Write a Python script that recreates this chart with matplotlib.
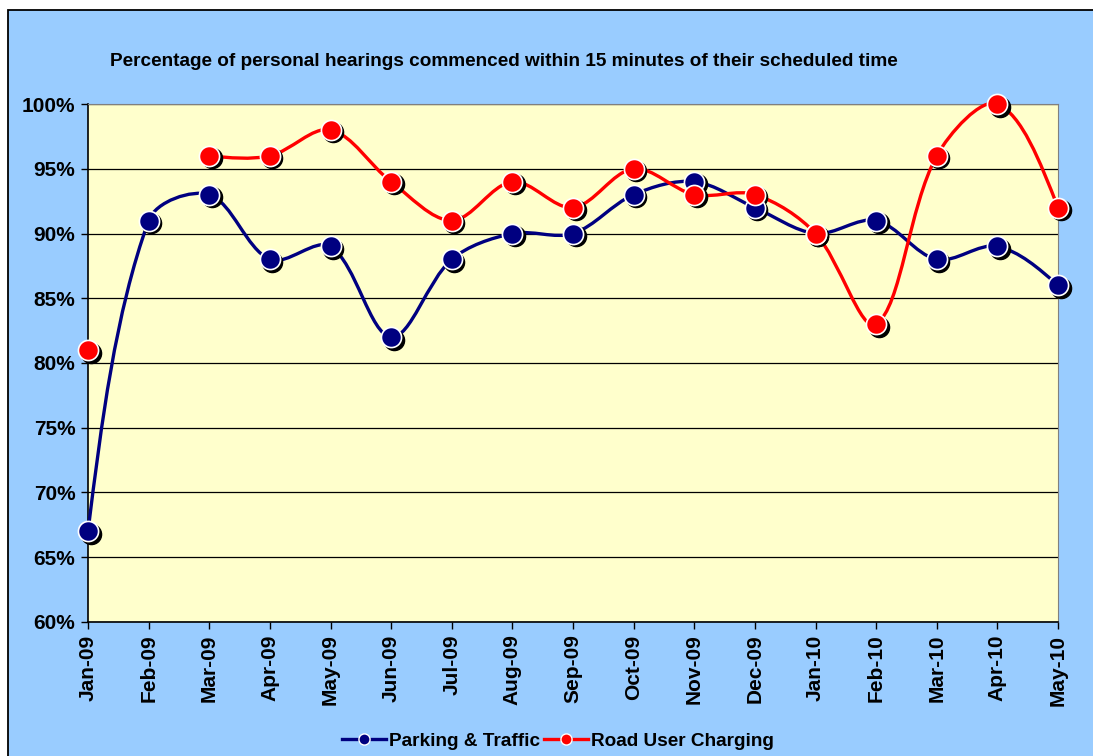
import numpy as np
import matplotlib
matplotlib.use("Agg")
import matplotlib.pyplot as plt
from matplotlib.path import Path
from matplotlib.patches import PathPatch, Rectangle
from matplotlib.lines import Line2D
import matplotlib.transforms as mtransforms

plt.rcParams['font.family'] = ['Liberation Sans', 'DejaVu Sans']

months = ["Jan-09", "Feb-09", "Mar-09", "Apr-09", "May-09", "Jun-09", "Jul-09", "Aug-09",
          "Sep-09", "Oct-09", "Nov-09", "Dec-09", "Jan-10", "Feb-10", "Mar-10", "Apr-10", "May-10"]
parking = [67, 91, 93, 88, 89, 82, 88, 90, 90, 93, 94, 92, 90, 91, 88, 89, 86]
road = [81, np.nan, 96, 96, 98, 94, 91, 94, 92, 95, 93, 93, 90, 83, 96, 100, 92]
series_names = ["Parking & Traffic", "Road User Charging"]
colors = ["#000080", "#FF0000"]
title = "Percentage of personal hearings commenced within 15 minutes of their scheduled time"

W, H = 1093, 756
fig = plt.figure(figsize=(W / 100, H / 100), dpi=100)
fig.patch.set_facecolor("white")
fig.patches.append(Rectangle((8 / W, -0.1), 1.2, 1.1 - 10 / H, transform=fig.transFigure,
                             facecolor="#99CCFF", edgecolor="black", linewidth=1.3, zorder=-10))

ax = fig.add_axes([88 / W, 1 - 622 / H, (1058 - 88) / W, (622 - 104) / H])
ax.set_facecolor("#FFFFCC")
ax.set_xlim(0, len(months) - 1)
ax.set_ylim(60, 100)
ax.set_yticks(np.arange(60, 101, 5))
ax.set_yticklabels([f"{v}%" for v in range(60, 101, 5)], fontsize=15, fontweight="bold")
ax.set_xticks(range(len(months)))
ax.set_xticklabels(months, rotation=90, fontsize=15, fontweight="bold")
ax.tick_params(axis="both", direction="out", length=5, width=1, color="black", pad=4)
ax.grid(axis="y", color="black", linewidth=0.9)
ax.set_axisbelow(True)
for s in ["top", "right"]:
    ax.spines[s].set_color("#808080")
for s in ["left", "bottom"]:
    ax.spines[s].set_color("black")
    ax.spines[s].set_linewidth(1.2)


def smooth_path(xs, ys):
    # Bezier smoothing computed in display space, handles scaled by chord lengths
    segs = []
    cur = []
    for xv, yv in zip(xs, ys):
        if np.isnan(yv):
            if cur:
                segs.append(cur)
            cur = []
        else:
            cur.append((xv, yv))
    if cur:
        segs.append(cur)
    verts, codes = [], []
    inv = ax.transData.inverted()
    for seg in segs:
        if len(seg) < 2:
            continue
        P = ax.transData.transform(np.array(seg, dtype=float))
        n = len(P)
        outs, ins = [], []
        for i in range(n):
            if i == 0 or i == n - 1:
                outs.append(np.zeros(2)); ins.append(np.zeros(2)); continue
            t = P[i + 1] - P[i - 1]
            lin = np.linalg.norm(P[i] - P[i - 1])
            lout = np.linalg.norm(P[i + 1] - P[i])
            outs.append(t * lout / (lin + lout) / 3)
            ins.append(-t * lin / (lin + lout) / 3)
        outs[0] = (P[1] - P[0]) / 3 if n == 2 else ((P[1] + ins[1]) - P[0]) / 2
        ins[n - 1] = (P[n - 2] - P[n - 1]) / 3 if n == 2 else ((P[n - 2] + outs[n - 2]) - P[n - 1]) / 2
        verts.append(P[0]); codes.append(Path.MOVETO)
        for i in range(n - 1):
            verts += [P[i] + outs[i], P[i + 1] + ins[i + 1], P[i + 1]]
            codes += [Path.CURVE4] * 3
    return Path(inv.transform(np.array(verts)), codes)


x = np.arange(len(months))
shadow = mtransforms.offset_copy(ax.transData, fig=fig, x=2.5, y=-2.5, units="dots")
handles = []
for vals, col, name in zip([parking, road], colors, series_names):
    vals = np.array(vals, dtype=float)
    ax.add_patch(PathPatch(smooth_path(x, vals), facecolor="none", edgecolor=col,
                           linewidth=2.4, zorder=3, clip_on=False))
    ax.plot(x, vals, linestyle="none", marker="o", markersize=14.5, color="black",
            transform=shadow, zorder=4, clip_on=False)
    ax.plot(x, vals, linestyle="none", marker="o", markersize=14.5, markerfacecolor=col,
            markeredgecolor="white", markeredgewidth=1.2, zorder=5, clip_on=False)
    handles.append(Line2D([], [], color=col, linewidth=2.4, marker="o", markersize=8,
                          markerfacecolor=col, markeredgecolor="white", markeredgewidth=1))

fig.text(504 / W, 1 - 61 / H, title, ha="center", va="center", fontsize=13.7, fontweight="bold")
fig.legend(handles, series_names, loc="center", bbox_to_anchor=(558 / W, 1 - 741 / H),
           ncol=2, frameon=False, prop={"weight": "bold", "size": 13.7},
           handlelength=2.3, handletextpad=0.15, columnspacing=0.2)

fig.savefig("out.png", dpi=100, facecolor=fig.get_facecolor())
